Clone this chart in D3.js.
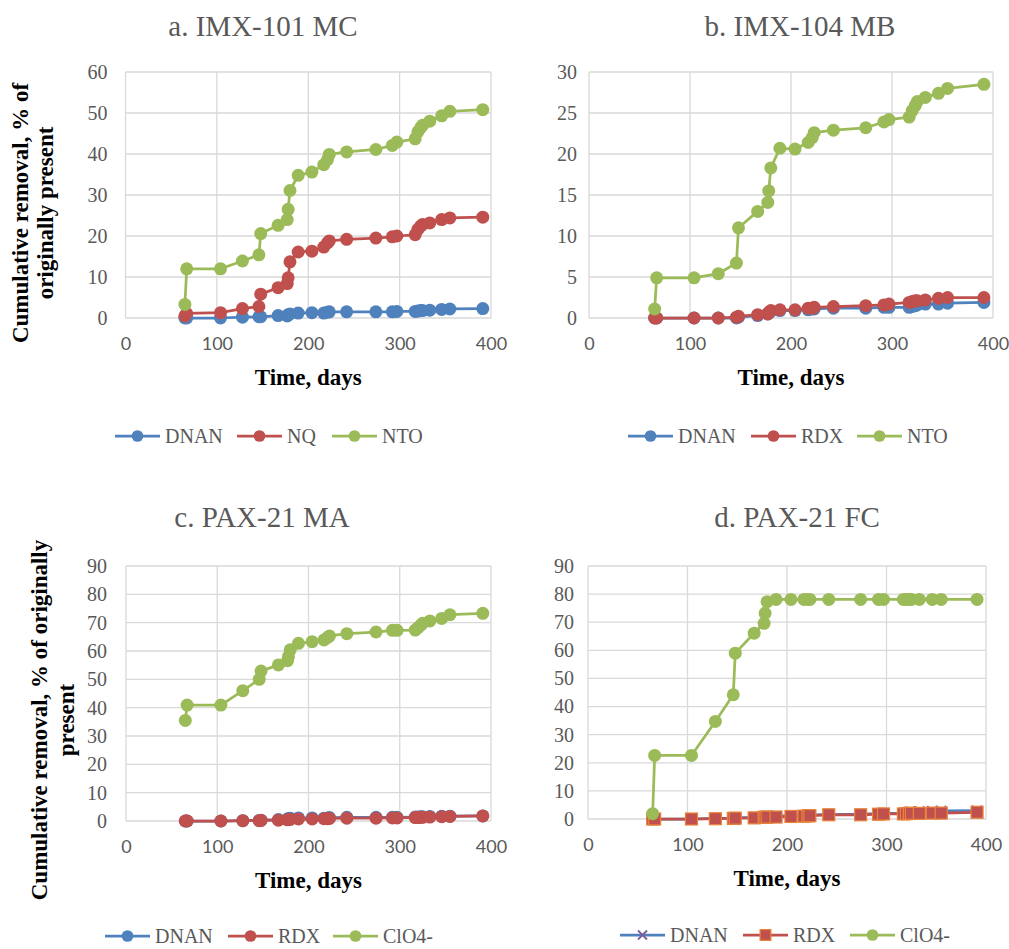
<!DOCTYPE html>
<html>
<head>
<meta charset="utf-8">
<script src="https://cdn.jsdelivr.net/npm/d3@7"></script>
<style>
  html, body { margin: 0; padding: 0; background: #fff; }
  svg { display: block; }
</style>
</head>
<body>
<svg id="chart" width="1009" height="949"></svg>
<script>
// Sampling days (shared by all four columns)
const days = [65, 67, 104, 128, 146, 148, 167, 177, 178, 180, 189, 204, 217, 221, 223, 242, 274, 292, 297, 317, 320, 323, 325, 333, 346, 355, 391];

// a. IMX-101 MC
const dnanA = [0, 0, 0, 0.2, 0.3, 0.3, 0.6, 0.5, 0.8, 1.0, 1.2, 1.3, 1.2, 1.4, 1.5, 1.5, 1.5, 1.5, 1.6, 1.6, 1.7, 1.8, 1.8, 1.9, 2.1, 2.2, 2.3];
const nqA   = [0.5, 1.1, 1.3, 2.3, 2.8, 5.8, 7.4, 8.4, 9.8, 13.7, 16.1, 16.3, 17.3, 18.3, 18.8, 19.2, 19.5, 19.8, 20.0, 20.3, 21.6, 22.4, 22.8, 23.2, 24.0, 24.4, 24.6];
const ntoA  = [3.3, 12.0, 12.0, 13.9, 15.4, 20.6, 22.6, 24.0, 26.5, 31.1, 34.8, 35.6, 37.4, 38.6, 39.9, 40.5, 41.1, 42.1, 42.9, 43.7, 45.4, 46.4, 47.0, 48.0, 49.3, 50.4, 50.8];

// b. IMX-104 MB
const dnanB = [0, 0, 0, 0, 0, 0.1, 0.3, 0.5, 0.6, 0.8, 0.9, 0.9, 1.0, 1.1, 1.1, 1.2, 1.2, 1.3, 1.3, 1.3, 1.4, 1.5, 1.6, 1.7, 1.7, 1.8, 1.9];
const rdxB  = [0, 0, 0, 0, 0.1, 0.2, 0.4, 0.5, 0.7, 0.9, 1.0, 1.0, 1.2, 1.2, 1.3, 1.4, 1.5, 1.6, 1.7, 1.9, 2.0, 2.1, 2.1, 2.2, 2.4, 2.5, 2.5];
const ntoB  = [1.1, 4.9, 4.9, 5.4, 6.7, 11.0, 13.0, 14.1, 15.5, 18.3, 20.7, 20.6, 21.4, 22.0, 22.6, 22.9, 23.2, 23.9, 24.2, 24.5, 25.3, 25.9, 26.4, 26.9, 27.4, 28.0, 28.5];

// c. PAX-21 MA
const dnanC = [0, 0, 0, 0.1, 0.2, 0.3, 0.5, 0.7, 0.9, 1.0, 1.1, 1.1, 1.0, 1.1, 1.2, 1.3, 1.3, 1.3, 1.3, 1.4, 1.4, 1.5, 1.5, 1.6, 1.7, 1.7, 1.8];
const rdxC  = [0, 0, 0, 0.1, 0.1, 0.2, 0.3, 0.4, 0.5, 0.6, 0.7, 0.7, 0.8, 0.8, 0.9, 1.0, 1.0, 1.1, 1.1, 1.2, 1.2, 1.3, 1.3, 1.4, 1.5, 1.6, 1.8];
const clo4C = [35.5, 40.9, 40.9, 46.0, 50.0, 52.9, 55.1, 56.6, 58.0, 60.4, 62.7, 63.3, 63.9, 64.8, 65.3, 66.1, 66.7, 67.3, 67.3, 67.4, 68.2, 69.1, 69.8, 70.6, 71.5, 72.8, 73.3];

// d. PAX-21 FC
const dnanD = [0, 0, 0, 0.2, 0.3, 0.4, 0.6, 0.8, 0.9, 1.0, 1.1, 1.1, 1.3, 1.4, 1.5, 1.6, 1.7, 1.9, 2.0, 2.1, 2.3, 2.5, 2.6, 2.7, 2.8, 2.9, 3.0];
const rdxD  = [0, 0, 0, 0.1, 0.2, 0.3, 0.4, 0.6, 0.6, 0.7, 0.7, 0.9, 1.0, 1.1, 1.2, 1.5, 1.5, 1.7, 1.8, 1.8, 1.9, 2.0, 2.0, 2.0, 2.1, 2.1, 2.4];
const clo4D = [1.9, 22.6, 22.6, 34.7, 44.2, 59.0, 66.1, 69.6, 73.2, 77.3, 78.1, 78.1, 78.1, 78.1, 78.1, 78.1, 78.1, 78.1, 78.1, 78.1, 78.1, 78.1, 78.1, 78.1, 78.1, 78.1, 78.1];

// Titles, legend names, ticks
const titles = ["a. IMX-101 MC", "b. IMX-104 MB", "c. PAX-21 MA", "d. PAX-21 FC"];
const namesA = ["DNAN", "NQ", "NTO"];
const namesB = ["DNAN", "RDX", "NTO"];
const namesCD = ["DNAN", "RDX", "ClO4-"];
const xTicks = [0, 100, 200, 300, 400];
const yTicksTop = [0, 10, 20, 30, 40, 50, 60];
const yTicksB = [0, 5, 10, 15, 20, 25, 30];
const yTicksBottom = [0, 10, 20, 30, 40, 50, 60, 70, 80, 90];

const BLUE = "#4F81BD", RED = "#C0504D", GREEN = "#9BBB59", PURPLE = "#7D5C9E", ORANGE = "#E9833A";
const GRID = "#D9D9D9", TXT = "#595959";
const SERIF = "'Liberation Serif', 'Times New Roman', serif";
const SANS = "Lato, 'Open Sans', sans-serif";

const panels = [
  { title: titles[0], titleX: 263, titleY: 36, x0: 125.5, x1: 491, y0: 72, y1: 318, yTicks: yTicksTop, yGap: 18,
    series: [
      { name: namesA[0], values: dnanA, color: BLUE, marker: "circle" },
      { name: namesA[1], values: nqA, color: RED, marker: "circle" },
      { name: namesA[2], values: ntoA, color: GREEN, marker: "circle" }],
    legendX: [115, 237, 332], legendY: 436,
    yTitle: ["Cumulative removal, % of", "originally present"], yTitleX: [20, 45], yTitleY: 213 },
  { title: titles[1], titleX: 800, titleY: 36, x0: 589, x1: 993, y0: 72, y1: 318, yTicks: yTicksB, yGap: 12,
    series: [
      { name: namesB[0], values: dnanB, color: BLUE, marker: "circle" },
      { name: namesB[1], values: rdxB, color: RED, marker: "circle" },
      { name: namesB[2], values: ntoB, color: GREEN, marker: "circle" }],
    legendX: [628, 751, 857], legendY: 436 },
  { title: titles[2], titleX: 262, titleY: 527, x0: 126, x1: 491, y0: 566, y1: 821, yTicks: yTicksBottom, yGap: 19,
    series: [
      { name: namesCD[0], values: dnanC, color: BLUE, marker: "circle" },
      { name: namesCD[1], values: rdxC, color: RED, marker: "circle" },
      { name: namesCD[2], values: clo4C, color: GREEN, marker: "circle" }],
    legendX: [105, 228, 333], legendY: 936,
    yTitle: ["Cumulative removal, % of originally", "present"], yTitleX: [39, 66], yTitleY: 720 },
  { title: titles[3], titleX: 797, titleY: 527, x0: 588, x1: 986, y0: 566, y1: 819, yTicks: yTicksBottom, yGap: 14,
    series: [
      { name: namesCD[0], values: dnanD, color: BLUE, marker: "cross", markerColor: PURPLE },
      { name: namesCD[1], values: rdxD, color: RED, marker: "square", strokeColor: ORANGE },
      { name: namesCD[2], values: clo4D, color: GREEN, marker: "circle" }],
    legendX: [620, 743, 850], legendY: 935 }
];

const svg = d3.select("#chart");

function drawMarker(g, s, cx, cy, scale) {
  const k = scale || 1;
  if (s.marker === "circle") {
    g.append("circle").attr("cx", cx).attr("cy", cy).attr("r", 6.5 * k).attr("fill", s.color);
  } else if (s.marker === "square") {
    const h = 6 * k;
    g.append("rect").attr("x", cx - h).attr("y", cy - h).attr("width", 2 * h).attr("height", 2 * h)
      .attr("fill", s.color).attr("stroke", s.strokeColor).attr("stroke-width", 1.2);
  } else if (s.marker === "cross") {
    const h = 5 * k;
    g.append("path").attr("d", `M${cx - h},${cy - h}L${cx + h},${cy + h}M${cx - h},${cy + h}L${cx + h},${cy - h}`)
      .attr("stroke", s.markerColor).attr("stroke-width", 1.8).attr("fill", "none");
  }
}

panels.forEach(p => {
  const x = d3.scaleLinear().domain([0, 400]).range([p.x0, p.x1]);
  const yMax = p.yTicks[p.yTicks.length - 1];
  const y = d3.scaleLinear().domain([0, yMax]).range([p.y1, p.y0]);
  const g = svg.append("g");

  // gridlines
  g.append("g").selectAll("line.h").data(p.yTicks).join("line")
    .attr("x1", p.x0).attr("x2", p.x1).attr("y1", d => y(d)).attr("y2", d => y(d))
    .attr("stroke", GRID).attr("stroke-width", 1.3);
  g.append("g").selectAll("line.v").data(xTicks).join("line")
    .attr("x1", d => x(d)).attr("x2", d => x(d)).attr("y1", p.y0).attr("y2", p.y1)
    .attr("stroke", GRID).attr("stroke-width", 1.3);

  // axes (labels only, gridlines serve as tick marks)
  const xAxis = g.append("g").attr("transform", `translate(0,${p.y1 + 26})`)
    .call(d3.axisBottom(x).tickValues(xTicks).tickSize(0).tickPadding(0));
  xAxis.select(".domain").remove();
  xAxis.selectAll("text").attr("font-family", SANS).attr("font-size", 18).attr("fill", TXT)
    .attr("dy", "0.35em");

  const yAxis = g.append("g").attr("transform", `translate(${p.x0 - p.yGap},0)`)
    .call(d3.axisLeft(y).tickValues(p.yTicks).tickSize(0).tickPadding(0));
  yAxis.select(".domain").remove();
  yAxis.selectAll("text").attr("font-family", SERIF).attr("font-size", 20).attr("fill", TXT);

  // series lines and markers
  const line = d3.line().x((d, i) => x(days[i])).y(d => y(d));
  p.series.forEach(s => {
    g.append("path").datum(s.values).attr("d", line).attr("fill", "none")
      .attr("stroke", s.color).attr("stroke-width", 2.75).attr("stroke-linejoin", "round");
    const mg = g.append("g");
    s.values.forEach((v, i) => drawMarker(mg, s, x(days[i]), y(v)));
  });

  // titles
  svg.append("text").attr("x", p.titleX).attr("y", p.titleY).attr("text-anchor", "middle")
    .attr("font-family", SERIF).attr("font-size", 29).attr("fill", TXT).text(p.title);
  svg.append("text").attr("x", (p.x0 + p.x1) / 2).attr("y", p.y1 + 67).attr("text-anchor", "middle")
    .attr("font-family", SERIF).attr("font-size", 23).attr("font-weight", "bold").attr("fill", "#000")
    .text("Time, days");

  if (p.yTitle) {
    p.yTitle.forEach((t, i) => {
      svg.append("text")
        .attr("transform", `translate(${p.yTitleX[i]},${p.yTitleY}) rotate(-90)`)
        .attr("text-anchor", "middle").attr("dominant-baseline", "central")
        .attr("font-family", SERIF).attr("font-size", 23).attr("font-weight", "bold").attr("fill", "#000")
        .text(t);
    });
  }

  // legend
  p.series.forEach((s, i) => {
    const lx = p.legendX[i], ly = p.legendY;
    const lg = svg.append("g");
    lg.append("line").attr("x1", lx).attr("x2", lx + 45).attr("y1", ly).attr("y2", ly)
      .attr("stroke", s.color).attr("stroke-width", 2.75);
    drawMarker(lg, s, lx + 22.5, ly, 0.9);
    lg.append("text").attr("x", lx + 50).attr("y", ly).attr("dominant-baseline", "central")
      .attr("font-family", SERIF).attr("font-size", 20).attr("fill", TXT).text(s.name);
  });
});
</script>
</body>
</html>
